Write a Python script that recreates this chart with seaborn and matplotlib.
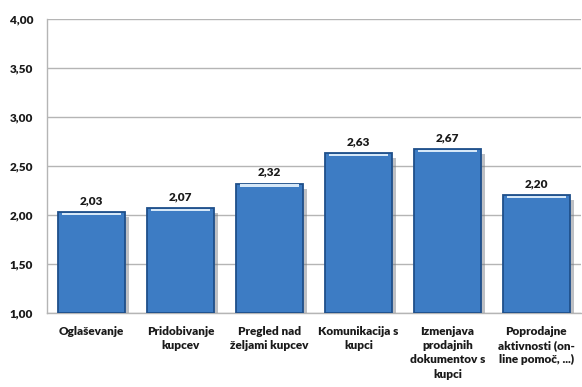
import matplotlib
matplotlib.use('Agg')
import matplotlib.pyplot as plt
import seaborn as sns
import pandas as pd
import numpy as np

categories = ['Oglaševanje', 'Pridobivanje\nkupcev', 'Pregled nad\nželjami kupcev',
              'Komunikacija s\nkupci', 'Izmenjava\nprodajnih\ndokumentov s\nkupci',
              'Poprodajne\naktivnosti (on-\nline pomoč, ...)']
values = [2.03, 2.07, 2.32, 2.63, 2.67, 2.20]
yticks = [1.0, 1.5, 2.0, 2.5, 3.0, 3.5, 4.0]

sns.set_style('white')
plt.rcParams['font.family'] = ['Lato', 'DejaVu Sans']

df = pd.DataFrame({'kat': categories, 'val': values})

fig = plt.figure(figsize=(5.82, 3.87), dpi=100)
ax = fig.add_axes([0.081, 0.191, 0.917, 0.76])

# bars start at 1.00, the axis floor of the original
sns.barplot(data=df, x='kat', y=np.array(values) - 1.0, bottom=1.0, ax=ax,
            color='#3d7cc4', edgecolor='#1f4f8a', linewidth=1.3, width=0.75,
            saturation=1, zorder=3)

for p, v in zip(ax.patches, values):
    x0, w = p.get_x(), p.get_width()
    # light top bevel
    ax.add_patch(plt.Rectangle((x0 + 0.04, v - 0.03), w - 0.08, 0.022,
                               facecolor='#d6e8f8', edgecolor='none', zorder=4))
    # shadow on the right
    ax.add_patch(plt.Rectangle((x0 + w, 1.0), 0.045, v - 1.05,
                               facecolor='#6f747c', alpha=0.45, edgecolor='none', zorder=2))
    ax.text(x0 + w / 2, v + 0.06, f'{v:.2f}'.replace('.', ','), ha='center', va='bottom',
            fontsize=8.5, fontweight='heavy', color='#1a1a1a')

ax.set_ylim(1.0, 4.0)
ax.set_xlim(-0.5, len(categories) - 0.5)
ax.set_yticks(yticks)
ax.set_yticklabels([f'{t:.2f}'.replace('.', ',') for t in yticks],
                   fontsize=8.5, fontweight='heavy', color='#1a1a1a')
ax.yaxis.grid(True, color='#b5b5b5', linewidth=1, zorder=0)
ax.set_axisbelow(True)

ax.set_xticks(range(len(categories)))
ax.set_xticklabels(categories, fontsize=8.5, fontweight='heavy', color='#1a1a1a',
                   linespacing=1.38)
ax.tick_params(axis='x', length=0, pad=9)
ax.set_xticks(np.arange(0.5, len(categories) - 0.5, 1), minor=True)
ax.tick_params(axis='x', which='minor', length=4, color='#b5b5b5')
ax.tick_params(axis='y', length=4, color='#b5b5b5', pad=6)
ax.set_xlabel('')
ax.set_ylabel('')

for s in ['top', 'right']:
    ax.spines[s].set_visible(False)
for s in ['left', 'bottom']:
    ax.spines[s].set_color('#b5b5b5')
    ax.spines[s].set_linewidth(1)

fig.savefig('out.png', dpi=100)
